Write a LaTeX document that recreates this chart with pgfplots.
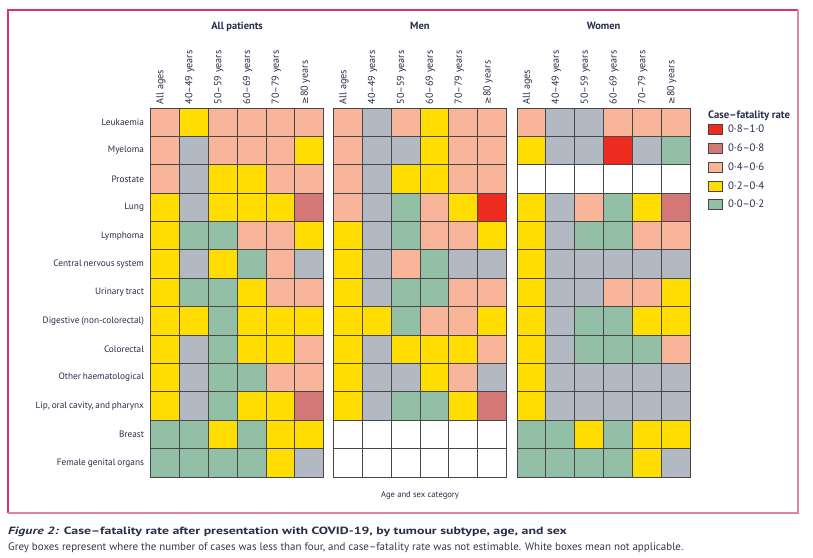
\documentclass[border=0pt]{standalone}
\usepackage{fontspec}
\setmainfont{PT Sans}
\newfontfamily\capfont[FakeStretch=1.32]{PT Sans}
\newfontfamily\rowfont[WordSpace=0.75]{PT Sans}
\newfontfamily\symfont{DejaVu Sans}
\usepackage{pgfplots}
\pgfplotsset{compat=1.18}
\definecolor{cR}{HTML}{EE2B1F}
\definecolor{cD}{HTML}{D47877}
\definecolor{cS}{HTML}{F9B59A}
\definecolor{cY}{HTML}{FFDD00}
\definecolor{cG}{HTML}{93BFA6}
\definecolor{cN}{HTML}{B2B9C2}
\definecolor{txt}{HTML}{272D4A}
\definecolor{frameA}{HTML}{D9336A}
\definecolor{frameB}{HTML}{E283A2}
\definecolor{cellline}{HTML}{474747}
\newcommand\lbl{\fontsize{10.2}{12}\selectfont}
\newcommand\rlbl{\rowfont\fontsize{9.3}{11}\selectfont}

\pgfplotsset{
  heat/.style={
    x=28.87bp, y=28.38bp,
    xmin=-0.5, xmax=5.5, ymin=-0.5, ymax=12.5,
    axis line style={draw=none},
    tick style={draw=none},
    xtick={0,...,5},
    xticklabels={All ages,40–49 years,50–59 years,60–69 years,70–79 years,{\symfont\fontsize{9}{10}\selectfont ≥}80 years},
    xticklabel pos=upper,
    xticklabel style={rotate=90, anchor=west, font=\lbl, text=txt, yshift=4bp},
    ytick=\empty,
    anchor=north west,
    clip=false,
    scatter/classes={
      R={fill=cR},
      D={fill=cD},
      S={fill=cS},
      Y={fill=cY},
      G={fill=cG},
      N={fill=cN},
      W={fill=white}},
  },
}

\begin{document}
\begin{tikzpicture}
\useasboundingbox (0,0) rectangle (813bp,558bp);
% frame
\draw[frameA, line width=1.5bp] (8bp,45bp) -- (8bp,548bp) -- (798bp,548bp);
\draw[frameB, line width=1.5bp] (798bp,548bp) -- (798bp,45bp) -- (8bp,45bp);

% All patients
\begin{axis}[heat, at={(150.5bp,450bp)},
  ytick={0,...,12},
  yticklabels={Female genital organs,Breast,{Lip, oral cavity, and pharynx},Other haematological,Colorectal,Digestive (non-colorectal),Urinary tract,Central nervous system,Lymphoma,Lung,Prostate,Myeloma,Leukaemia},
  yticklabel style={anchor=east, font=\rlbl, text=txt, xshift=-3bp}]
\addplot[only marks, scatter, mark=square*, mark size=14.19bp, point meta=explicit symbolic,
  mark options={draw=cellline, line width=0.8bp, xscale=1.017}]
  table[row sep=\\, x=c, y expr=12-\thisrow{r}, meta=k]{
c r k\\
0 0 S\\ 1 0 Y\\ 2 0 S\\ 3 0 S\\ 4 0 S\\ 5 0 S\\
0 1 S\\ 1 1 N\\ 2 1 S\\ 3 1 S\\ 4 1 S\\ 5 1 Y\\
0 2 S\\ 1 2 N\\ 2 2 Y\\ 3 2 Y\\ 4 2 S\\ 5 2 S\\
0 3 Y\\ 1 3 N\\ 2 3 Y\\ 3 3 Y\\ 4 3 Y\\ 5 3 D\\
0 4 Y\\ 1 4 G\\ 2 4 G\\ 3 4 S\\ 4 4 S\\ 5 4 Y\\
0 5 Y\\ 1 5 N\\ 2 5 Y\\ 3 5 G\\ 4 5 S\\ 5 5 N\\
0 6 Y\\ 1 6 G\\ 2 6 G\\ 3 6 Y\\ 4 6 S\\ 5 6 S\\
0 7 Y\\ 1 7 Y\\ 2 7 G\\ 3 7 Y\\ 4 7 Y\\ 5 7 Y\\
0 8 Y\\ 1 8 N\\ 2 8 G\\ 3 8 Y\\ 4 8 Y\\ 5 8 S\\
0 9 Y\\ 1 9 N\\ 2 9 G\\ 3 9 G\\ 4 9 S\\ 5 9 S\\
0 10 Y\\ 1 10 N\\ 2 10 G\\ 3 10 Y\\ 4 10 Y\\ 5 10 D\\
0 11 G\\ 1 11 G\\ 2 11 Y\\ 3 11 G\\ 4 11 Y\\ 5 11 Y\\
0 12 G\\ 1 12 G\\ 2 12 G\\ 3 12 G\\ 4 12 Y\\ 5 12 N\\
};
\end{axis}

% Men
\begin{axis}[heat, at={(333.3bp,450bp)}]
\addplot[only marks, scatter, mark=square*, mark size=14.19bp, point meta=explicit symbolic,
  mark options={draw=cellline, line width=0.8bp, xscale=1.017}]
  table[row sep=\\, x=c, y expr=12-\thisrow{r}, meta=k]{
c r k\\
0 0 S\\ 1 0 N\\ 2 0 S\\ 3 0 Y\\ 4 0 S\\ 5 0 S\\
0 1 S\\ 1 1 N\\ 2 1 N\\ 3 1 Y\\ 4 1 S\\ 5 1 S\\
0 2 S\\ 1 2 N\\ 2 2 Y\\ 3 2 Y\\ 4 2 S\\ 5 2 S\\
0 3 S\\ 1 3 N\\ 2 3 G\\ 3 3 S\\ 4 3 Y\\ 5 3 R\\
0 4 Y\\ 1 4 N\\ 2 4 G\\ 3 4 S\\ 4 4 S\\ 5 4 Y\\
0 5 Y\\ 1 5 N\\ 2 5 S\\ 3 5 G\\ 4 5 N\\ 5 5 N\\
0 6 Y\\ 1 6 N\\ 2 6 G\\ 3 6 G\\ 4 6 S\\ 5 6 S\\
0 7 Y\\ 1 7 Y\\ 2 7 G\\ 3 7 S\\ 4 7 S\\ 5 7 Y\\
0 8 Y\\ 1 8 N\\ 2 8 Y\\ 3 8 Y\\ 4 8 Y\\ 5 8 S\\
0 9 Y\\ 1 9 N\\ 2 9 N\\ 3 9 Y\\ 4 9 S\\ 5 9 N\\
0 10 Y\\ 1 10 N\\ 2 10 G\\ 3 10 G\\ 4 10 Y\\ 5 10 D\\
0 11 W\\ 1 11 W\\ 2 11 W\\ 3 11 W\\ 4 11 W\\ 5 11 W\\
0 12 W\\ 1 12 W\\ 2 12 W\\ 3 12 W\\ 4 12 W\\ 5 12 W\\
};
\end{axis}

% Women
\begin{axis}[heat, at={(517bp,450bp)},
  legend style={at={(1,1)}, anchor=north west, xshift=18bp, yshift=-16bp,
    draw=none, fill=none, inner sep=0pt, row sep=7.6bp,
    /tikz/every odd column/.append style={column sep=4bp},
    nodes={inner sep=1bp, font=\fontsize{10.8}{12}\selectfont, text=txt}},
  legend cell align=left,
  legend image code/.code={\draw[#1, draw=cellline, line width=0.6bp] (0bp,-5bp) rectangle (14bp,5bp);}]
\addplot[only marks, scatter, mark=square*, mark size=14.19bp, point meta=explicit symbolic,
  mark options={draw=cellline, line width=0.8bp, xscale=1.017}, forget plot]
  table[row sep=\\, x=c, y expr=12-\thisrow{r}, meta=k]{
c r k\\
0 0 S\\ 1 0 N\\ 2 0 N\\ 3 0 S\\ 4 0 S\\ 5 0 S\\
0 1 Y\\ 1 1 N\\ 2 1 N\\ 3 1 R\\ 4 1 N\\ 5 1 G\\
0 2 W\\ 1 2 W\\ 2 2 W\\ 3 2 W\\ 4 2 W\\ 5 2 W\\
0 3 Y\\ 1 3 N\\ 2 3 S\\ 3 3 G\\ 4 3 Y\\ 5 3 D\\
0 4 Y\\ 1 4 N\\ 2 4 G\\ 3 4 G\\ 4 4 S\\ 5 4 S\\
0 5 Y\\ 1 5 N\\ 2 5 N\\ 3 5 N\\ 4 5 N\\ 5 5 N\\
0 6 Y\\ 1 6 N\\ 2 6 N\\ 3 6 S\\ 4 6 S\\ 5 6 Y\\
0 7 Y\\ 1 7 N\\ 2 7 G\\ 3 7 G\\ 4 7 Y\\ 5 7 Y\\
0 8 Y\\ 1 8 N\\ 2 8 G\\ 3 8 G\\ 4 8 G\\ 5 8 S\\
0 9 Y\\ 1 9 N\\ 2 9 N\\ 3 9 N\\ 4 9 N\\ 5 9 N\\
0 10 Y\\ 1 10 N\\ 2 10 N\\ 3 10 N\\ 4 10 N\\ 5 10 N\\
0 11 G\\ 1 11 G\\ 2 11 Y\\ 3 11 G\\ 4 11 Y\\ 5 11 Y\\
0 12 G\\ 1 12 G\\ 2 12 G\\ 3 12 G\\ 4 12 Y\\ 5 12 N\\
};
\addlegendimage{fill=cR}\addlegendentry{0·8–1·0}
\addlegendimage{fill=cD}\addlegendentry{0·6–0·8}
\addlegendimage{fill=cS}\addlegendentry{0·4–0·6}
\addlegendimage{fill=cY}\addlegendentry{0·2–0·4}
\addlegendimage{fill=cG}\addlegendentry{0·0–0·2}
\end{axis}

% panel titles
\node[anchor=base, font=\bfseries\fontsize{10.5}{12}\selectfont, text=txt] at (237.1bp,528bp) {All patients};
\node[anchor=base, font=\bfseries\fontsize{10.5}{12}\selectfont, text=txt] at (419.9bp,528bp) {Men};
\node[anchor=base, font=\bfseries\fontsize{10.5}{12}\selectfont, text=txt] at (603.6bp,528bp) {Women};
\node[anchor=base west, font=\bfseries\fontsize{10.8}{12}\selectfont, text=txt, inner sep=0pt] at (708bp,439bp) {Case–fatality rate};
\node[anchor=base, font=\fontsize{8.6}{10}\selectfont, text=txt] at (420bp,60bp) {Age and sex category};
% caption
\node[anchor=base west, inner sep=0pt, font=\capfont\fontsize{10.5}{12}\selectfont, text=txt] at (8bp,24bp) {\textbf{\textit{Figure 2:} Case–fatality rate after presentation with COVID-19, by tumour subtype, age, and sex}};
\node[anchor=base west, inner sep=0pt, font=\fontsize{11}{12}\selectfont, text=txt!85!gray] at (8bp,8bp) {Grey boxes represent where the number of cases was less than four, and case–fatality rate was not estimable. White boxes mean not applicable.};
\end{tikzpicture}
\end{document}
